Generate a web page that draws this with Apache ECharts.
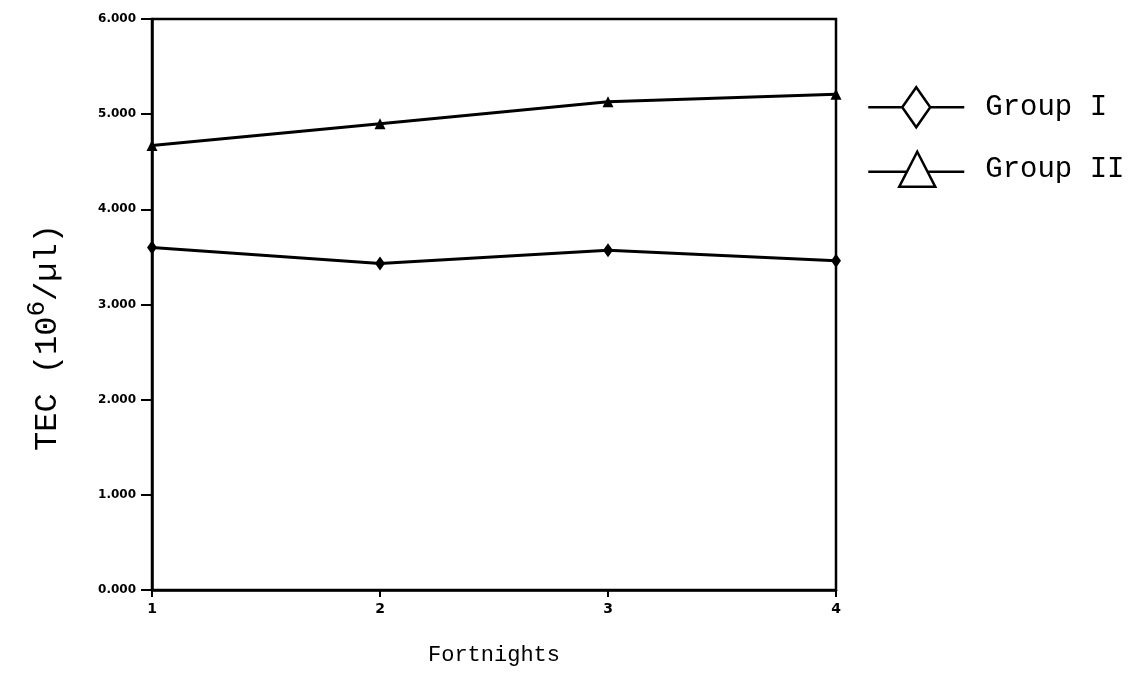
<!DOCTYPE html>
<html><head><meta charset="utf-8">
<script src="https://cdn.jsdelivr.net/npm/echarts@6/dist/echarts.min.js"></script>
<style>html,body{margin:0;padding:0;background:#fff}#c{width:1139px;height:686px}</style>
</head><body><div id="c"></div>
<script>
const fortnights = [1, 2, 3, 4];
const groupI = [3.60, 3.43, 3.57, 3.46];
const groupII = [4.67, 4.90, 5.13, 5.21];
const seriesNames = ['Group I', 'Group II'];

const chart = echarts.init(document.getElementById('c'));
const mono = '"Liberation Mono", "DejaVu Sans Mono", monospace';
const diamondIcon = 'path://M0,20L34,20M34,20L48,0L62,20L48,40ZM62,20L96,20';
const triangleIcon = 'path://M0,20L39,20M49,0L67,35L31,35ZM59,20L96,20';
chart.setOption({
  animation: false,
  backgroundColor: '#fff',
  grid: { left: 152, right: 303, top: 19, bottom: 96, show: true, borderColor: '#000', borderWidth: 2.5 },
  legend: {
    orient: 'vertical', left: 862, top: 81, itemWidth: 96, itemHeight: 40, itemGap: 22,
    textStyle: { fontFamily: mono, fontSize: 29, color: '#000', padding: [0, 0, 0, 16] },
    data: [
      { name: seriesNames[0], icon: diamondIcon, itemStyle: { color: '#fff', borderColor: '#000', borderWidth: 2.5 } },
      { name: seriesNames[1], icon: triangleIcon, itemStyle: { color: '#fff', borderColor: '#000', borderWidth: 2.5 } }
    ]
  },
  xAxis: {
    type: 'value', min: 1, max: 4, interval: 1,
    name: 'Fortnights', nameLocation: 'middle', nameGap: 54,
    nameTextStyle: { fontFamily: mono, fontSize: 22, color: '#000' },
    axisLine: { lineStyle: { color: '#000', width: 2.5 } },
    axisTick: { length: 7, lineStyle: { color: '#000', width: 2 } },
    axisLabel: { fontFamily: 'DejaVu Sans', fontWeight: 'bold', fontSize: 14, color: '#000', margin: 12 },
    splitLine: { show: false }
  },
  yAxis: {
    type: 'value', min: 0, max: 6, interval: 1,
    name: '{a|TEC (10}{s|6}{a|/µl)}', nameLocation: 'middle', nameGap: 80, nameRotate: 90,
    nameTextStyle: {
      padding: [0, 66, 0, 0],
      rich: {
        a: { fontFamily: mono, fontSize: 32, color: '#000' },
        s: { fontFamily: mono, fontSize: 26, color: '#000', verticalAlign: 'bottom', padding: [0, 0, 22, 0] }
      }
    },
    axisLine: { lineStyle: { color: '#000', width: 2.5 } },
    axisTick: { length: 11, lineStyle: { color: '#000', width: 2 } },
    axisLabel: { fontFamily: 'DejaVu Sans', fontWeight: 'bold', fontSize: 12, color: '#000', margin: 16,
      formatter: v => v.toFixed(3) },
    splitLine: { show: false }
  },
  series: [
    { name: seriesNames[0], type: 'line', data: fortnights.map((x, i) => [x, groupI[i]]),
      symbol: 'diamond', symbolSize: [10, 14], itemStyle: { color: '#000' }, lineStyle: { color: '#000', width: 3 } },
    { name: seriesNames[1], type: 'line', data: fortnights.map((x, i) => [x, groupII[i]]),
      symbol: 'triangle', symbolSize: 11, itemStyle: { color: '#000' }, lineStyle: { color: '#000', width: 3 } }
  ]
});
</script></body></html>
